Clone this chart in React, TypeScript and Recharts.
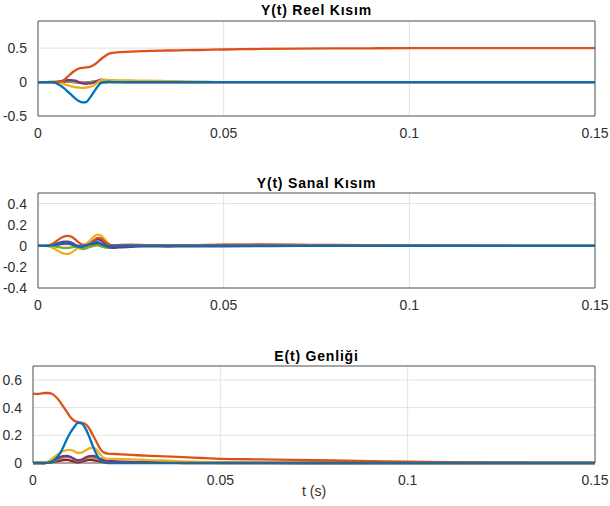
import { LineChart, Line, XAxis, YAxis, CartesianGrid } from "recharts";

// time axis (s)
const time = [
  0, 0.001, 0.002, 0.003, 0.004, 0.005, 0.006, 0.007, 0.008, 0.009, 0.01,
  0.011, 0.012, 0.013, 0.014, 0.015, 0.016, 0.017, 0.018, 0.019, 0.02,
  0.022, 0.025, 0.028, 0.03, 0.035, 0.04, 0.045, 0.05, 0.06, 0.07, 0.08,
  0.09, 0.1, 0.11, 0.12, 0.13, 0.14, 0.15,
];

const xTicks = [0, 0.05, 0.1, 0.15];

// Y(t) real part
const reBlue = [
  0, 0, 0, 0, 0, -0.02, -0.05, -0.09, -0.14, -0.19, -0.24, -0.28, -0.3,
  -0.295, -0.23, -0.15, -0.07, -0.01, -0.005, 0.005, 0, 0, 0, 0, 0, 0, 0,
  0, 0, 0, 0, 0, 0, 0, 0, 0, 0, 0, 0,
];
const reOrange = [
  0, 0, 0, 0, 0, 0, 0.005, 0.03, 0.08, 0.13, 0.17, 0.2, 0.21, 0.215,
  0.225, 0.25, 0.29, 0.34, 0.38, 0.415, 0.43, 0.44, 0.45, 0.455, 0.46,
  0.465, 0.47, 0.475, 0.48, 0.488, 0.493, 0.496, 0.498, 0.5, 0.5, 0.5, 0.5,
  0.5, 0.5,
];
const reYellow = [
  0, 0, 0, 0.005, 0.01, 0.005, -0.01, -0.03, -0.05, -0.065, -0.075, -0.08,
  -0.085, -0.08, -0.07, -0.05, -0.01, 0.03, 0.035, 0.03, 0.03, 0.025, 0.025,
  0.02, 0.02, 0.015, 0.01, 0.005, 0, 0, 0, 0, 0, 0, 0, 0, 0, 0, 0,
];
const rePurple = [
  0, 0, 0, 0, 0, 0.005, 0.01, 0.02, 0.03, 0.03, 0.02, 0, -0.02, -0.025,
  -0.02, -0.01, 0.02, 0.035, 0.03, 0.02, 0.01, 0.005, 0, 0, 0, 0, 0, 0, 0,
  0, 0, 0, 0, 0, 0, 0, 0, 0, 0,
];
const reGreen = [
  0, 0, 0, 0, 0, 0, 0.005, 0.01, 0.01, 0.005, -0.005, -0.01, -0.015, -0.01,
  0, 0.01, 0.015, 0.01, 0.005, 0, 0, 0, 0, 0, 0, 0, 0, 0, 0, 0, 0, 0, 0, 0,
  0, 0, 0, 0, 0,
];
const reRed = [
  0, 0, 0, 0, 0, 0, 0, 0.005, 0.01, 0.005, 0, -0.005, -0.01, -0.005, 0,
  0.005, 0.01, 0.005, 0, 0, 0, 0, 0, 0, 0, 0, 0, 0, 0, 0, 0, 0, 0, 0, 0, 0,
  0, 0, 0,
];

// Y(t) imaginary part
const imBlue = [
  0, 0, 0, 0, 0.005, 0.01, 0.02, 0.03, 0.03, 0.015, 0, -0.01, -0.005,
  0.005, 0.015, 0.03, 0.035, 0.02, 0, -0.005, 0, 0, 0, 0, 0, 0, 0, 0, 0, 0,
  0, 0, 0, 0, 0, 0, 0, 0, 0,
];
const imOrange = [
  0, 0, 0, 0.005, 0.02, 0.045, 0.07, 0.088, 0.094, 0.085, 0.06, 0.03, 0.01,
  0.005, 0.02, 0.05, 0.075, 0.07, 0.04, 0.015, 0.005, 0.008, 0.01, 0.008,
  0.005, 0.003, 0.005, 0.008, 0.01, 0.012, 0.01, 0.008, 0.005, 0.003,
  0.002, 0, 0, 0, 0,
];
const imYellow = [
  0, 0, 0, -0.005, -0.02, -0.04, -0.06, -0.075, -0.078, -0.065, -0.04,
  -0.015, 0, 0.02, 0.05, 0.085, 0.105, 0.095, 0.06, 0.02, 0, 0.003, 0.003,
  0.002, 0, 0, 0, 0, 0, 0, 0, 0, 0, 0, 0, 0, 0, 0, 0,
];
const imPurple = [
  0, 0, 0, 0.002, 0.01, 0.02, 0.03, 0.04, 0.04, 0.03, 0.01, -0.005, -0.01,
  0, 0.02, 0.045, 0.06, 0.05, 0.02, -0.01, -0.02, -0.015, -0.01, -0.005,
  -0.005, -0.008, -0.005, -0.005, -0.005, -0.003, 0, 0, 0, 0, 0, 0, 0, 0, 0,
];
const imGreen = [
  0, 0, 0, -0.002, -0.005, -0.01, -0.015, -0.02, -0.02, -0.015, -0.01,
  -0.02, -0.03, -0.025, -0.01, 0, 0.005, -0.005, -0.015, -0.02, -0.015,
  -0.01, -0.005, 0, 0, 0, 0, 0, 0, 0, 0, 0, 0, 0, 0, 0, 0, 0, 0,
];
const imRed = [
  0, 0, 0, 0, 0.005, 0.01, 0.015, 0.02, 0.02, 0.015, 0.005, 0, 0, 0.005,
  0.01, 0.015, 0.015, 0.01, 0.005, 0, 0, 0.005, 0.005, 0.005, 0.005, 0.005,
  0.005, 0.005, 0.008, 0.008, 0.006, 0.005, 0.004, 0.003, 0.002, 0.001, 0,
  0, 0,
];

// E(t) amplitude
const amBlue = [
  0, 0, 0, 0, 0.002, 0.01, 0.03, 0.06, 0.11, 0.17, 0.22, 0.26, 0.29, 0.285,
  0.25, 0.19, 0.12, 0.06, 0.02, 0.005, 0, 0, 0, 0, 0, 0, 0, 0, 0, 0, 0, 0,
  0, 0, 0, 0, 0, 0, 0,
];
const amOrange = [
  0.5, 0.498, 0.5, 0.505, 0.505, 0.5, 0.48, 0.45, 0.41, 0.37, 0.33, 0.305,
  0.295, 0.29, 0.28, 0.25, 0.2, 0.15, 0.1, 0.075, 0.068, 0.065, 0.06,
  0.056, 0.053, 0.048, 0.043, 0.036, 0.03, 0.026, 0.022, 0.018, 0.014,
  0.01, 0.006, 0.004, 0.002, 0.001, 0.001,
];
const amYellow = [
  0, 0, 0, 0.002, 0.01, 0.03, 0.05, 0.07, 0.085, 0.093, 0.095, 0.085,
  0.072, 0.075, 0.09, 0.105, 0.11, 0.095, 0.06, 0.035, 0.03, 0.03, 0.028,
  0.025, 0.022, 0.018, 0.012, 0.008, 0.005, 0.003, 0.002, 0.001, 0, 0, 0,
  0, 0, 0, 0,
];
const amPurple = [
  0, 0, 0, 0, 0.005, 0.01, 0.025, 0.04, 0.05, 0.052, 0.045, 0.03, 0.02,
  0.025, 0.04, 0.05, 0.052, 0.045, 0.03, 0.02, 0.015, 0.012, 0.01, 0.008,
  0.007, 0.005, 0.004, 0.003, 0.002, 0.001, 0, 0, 0, 0, 0, 0, 0, 0, 0,
];
const amGreen = [
  0, 0, 0, 0, 0.003, 0.008, 0.018, 0.03, 0.038, 0.042, 0.038, 0.025, 0.015,
  0.02, 0.032, 0.04, 0.038, 0.03, 0.02, 0.012, 0.01, 0.008, 0.006, 0.005,
  0.004, 0.003, 0.002, 0.001, 0, 0, 0, 0, 0, 0, 0, 0, 0, 0, 0,
];
const amRed = [
  0, 0, 0, 0, 0.002, 0.005, 0.01, 0.015, 0.02, 0.022, 0.018, 0.01, 0.005,
  0.01, 0.018, 0.022, 0.02, 0.015, 0.01, 0.006, 0.005, 0.004, 0.003, 0.002,
  0.002, 0.001, 0, 0, 0, 0, 0, 0, 0, 0, 0, 0, 0, 0, 0,
];

const COLORS = {
  blue: "#0072BD",
  orange: "#D95319",
  yellow: "#EDB120",
  purple: "#7E2F8E",
  green: "#77AC30",
  red: "#A2142F",
};

// drawing order: blue last so it sits on top
const ORDER = ["red", "green", "purple", "yellow", "orange", "blue"] as const;

function buildRows(s: Record<string, number[]>) {
  return time.map((t, i) => {
    const row: Record<string, number> = { t };
    for (const k of Object.keys(s)) row[k] = s[k][i];
    return row;
  });
}

const reRows = buildRows({ blue: reBlue, orange: reOrange, yellow: reYellow, purple: rePurple, green: reGreen, red: reRed });
const imRows = buildRows({ blue: imBlue, orange: imOrange, yellow: imYellow, purple: imPurple, green: imGreen, red: imRed });
const amRows = buildRows({ blue: amBlue, orange: amOrange, yellow: amYellow, purple: amPurple, green: amGreen, red: amRed });

const FONT = "'Liberation Sans', Arial, sans-serif";
const TEXT = "#303030";
const BOX = "#5a5a5a";

interface PanelProps {
  top: number;
  height: number;
  marginTop: number;
  yWidth: number;
  domain: [number, number];
  ticks: number[];
  rows: Record<string, number>[];
}

function Panel({ top, height, marginTop, yWidth, domain, ticks, rows }: PanelProps) {
  const tickStyle = { fill: TEXT, fontSize: 14, fontFamily: FONT };
  return (
    <div style={{ position: "absolute", left: 0, top, width: 610, height }}>
      <LineChart
        width={610}
        height={height}
        data={rows}
        margin={{ top: marginTop, right: 15, bottom: 0, left: 0 }}
      >
        <CartesianGrid stroke="#e2e2e2" />
        <XAxis
          dataKey="t"
          type="number"
          domain={[0, 0.15]}
          ticks={xTicks}
          tickFormatter={v => String(v)}
          height={24}
          tickLine={false}
          tickMargin={6}
          tick={tickStyle}
          axisLine={{ stroke: BOX }}
        />
        <YAxis
          type="number"
          domain={domain}
          ticks={ticks}
          tickFormatter={v => String(v)}
          width={yWidth}
          tickLine={false}
          tickMargin={5}
          tick={tickStyle}
          axisLine={{ stroke: BOX }}
        />
        {/* inward tick marks and the rest of the box */}
        <XAxis xAxisId="top" orientation="top" mirror type="number" domain={[0, 0.15]} ticks={xTicks} tick={false} tickSize={4} tickLine={{ stroke: BOX }} axisLine={{ stroke: BOX }} />
        <XAxis xAxisId="bot" orientation="bottom" mirror type="number" domain={[0, 0.15]} ticks={xTicks} tick={false} tickSize={4} tickLine={{ stroke: BOX }} axisLine={false} />
        <YAxis yAxisId="lm" orientation="left" mirror type="number" domain={domain} ticks={ticks} tick={false} tickSize={4} tickLine={{ stroke: BOX }} axisLine={false} />
        <YAxis yAxisId="rm" orientation="right" mirror type="number" domain={domain} ticks={ticks} tick={false} tickSize={4} tickLine={{ stroke: BOX }} axisLine={{ stroke: BOX }} />
        {ORDER.map(k => (
          <Line
            key={k}
            dataKey={k}
            type="monotone"
            stroke={COLORS[k]}
            strokeWidth={2.3}
            dot={false}
            isAnimationActive={false}
          />
        ))}
      </LineChart>
    </div>
  );
}

const titleStyle = {
  position: "absolute" as const,
  left: 38,
  width: 557,
  textAlign: "center" as const,
  fontFamily: FONT,
  fontWeight: 700,
  fontSize: 14,
  letterSpacing: 0.8,
  lineHeight: "16px",
  color: "#000",
};

export default function App() {
  return (
    <div
      style={{
        position: "absolute",
        left: 0,
        top: 0,
        width: 610,
        height: 506,
        background: "#fff",
        overflow: "hidden",
      }}
    >
      <Panel top={0} height={140} marginTop={21} yWidth={38} domain={[-0.5, 0.9]} ticks={[-0.5, 0, 0.5]} rows={reRows} />
      <Panel top={170} height={142} marginTop={23} yWidth={38} domain={[-0.4, 0.5]} ticks={[-0.4, -0.2, 0, 0.2, 0.4]} rows={imRows} />
      <Panel top={345} height={142} marginTop={21} yWidth={33} domain={[0, 0.7]} ticks={[0, 0.2, 0.4, 0.6]} rows={amRows} />

      <div style={{ ...titleStyle, top: 2 }}>Y(t) Reel Kısım</div>
      <div style={{ ...titleStyle, top: 175 }}>Y(t) Sanal Kısım</div>
      <div style={{ ...titleStyle, top: 348 }}>E(t) Genliği</div>
      <div
        style={{
          position: "absolute",
          left: 33,
          width: 562,
          top: 483,
          textAlign: "center",
          fontFamily: FONT,
          fontSize: 14,
          lineHeight: "16px",
          color: TEXT,
        }}
      >
        t (s)
      </div>
    </div>
  );
}
